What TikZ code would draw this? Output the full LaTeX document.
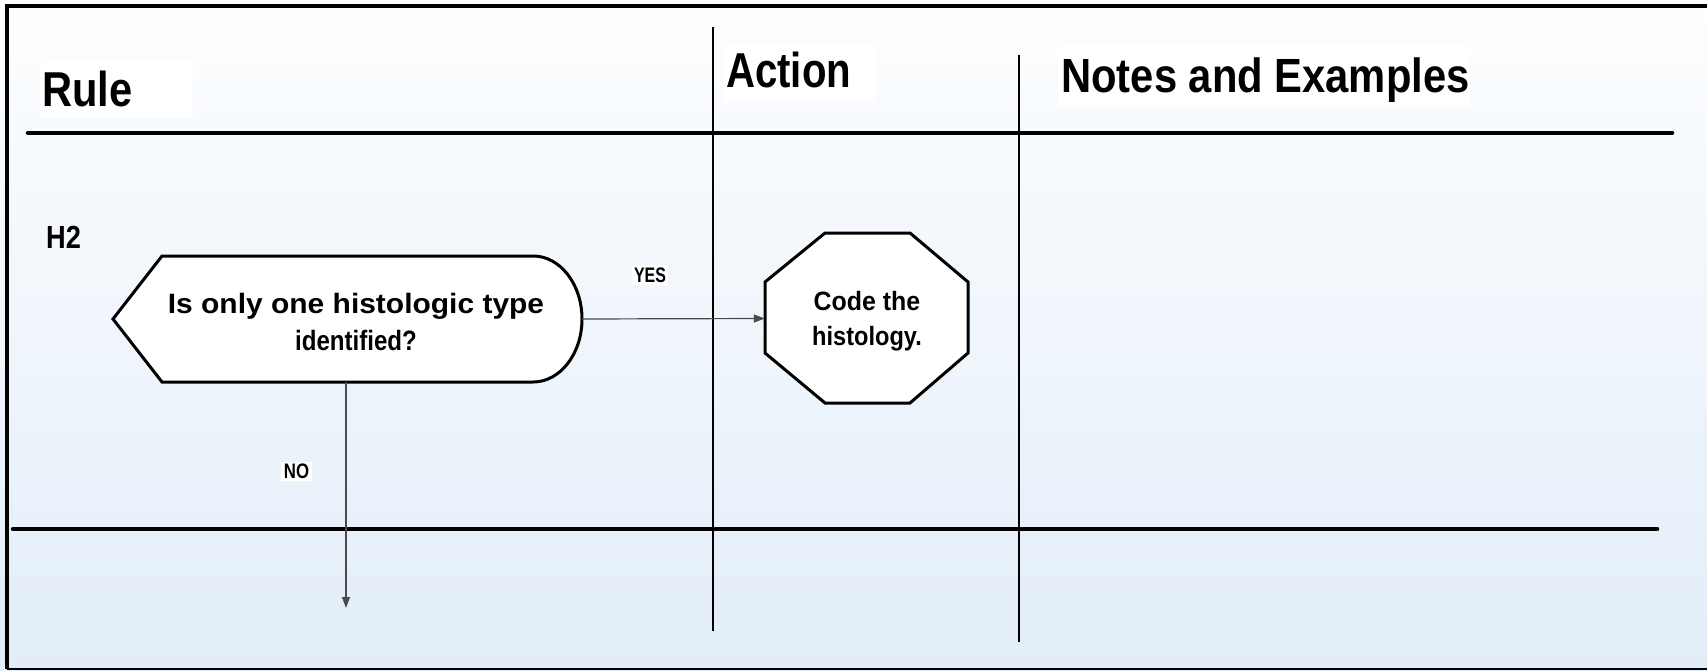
\documentclass[tikz,border=0pt]{standalone}
\usepackage{fontspec}
\setmainfont{Liberation Sans}
\usetikzlibrary{arrows.meta}
\newcommand{\sqz}[2]{\scalebox{#1}[1]{#2}}
\definecolor{bgtop}{RGB}{253,254,255}
\definecolor{bgmid}{RGB}{244,248,252}
\definecolor{bgbot}{RGB}{226,237,248}
\definecolor{conncol}{RGB}{75,75,75}
\tikzset{
  frameline/.style={line width=4, black},
  headrule/.style={line width=4.5, black, line cap=round},
  colrule/.style={line width=2, black},
  outline/.style={line width=3, black, fill=white, line join=miter},
  txt/.style={inner sep=0, font=\bfseries},
  labelbg/.style={fill=white, draw=none},
  tag/.style={txt, fill=white, inner sep=2.5},
  conn/.style={line width=1.2, conncol, -{Triangle[length=11,width=8]}},
}
\begin{document}
\begin{tikzpicture}[x=1pt,y=-1pt]
\useasboundingbox (0,0) rectangle (1707,671);
\clip (0,0) rectangle (1707,671);

% page background
\shade[top color=bgtop, middle color=bgmid, bottom color=bgbot] (0,0) rectangle (1707,671);

% outer frame
\draw[frameline] (1720,6) -- (7,6) -- (7,669);
\draw[line width=2.5] (7,669) -- (1720,669);

% white patches behind the column headings
\fill[labelbg] (41,60) rectangle (193,118);
\fill[labelbg] (723,43) rectangle (875,102);
\fill[labelbg] (1058,45) rectangle (1470,106);

% table rules
\draw[headrule] (28,133) -- (1672,133);
\draw[headrule] (13,529) -- (1657,529);
\draw[colrule] (713,27) -- (713,631);
\draw[colrule] (1019,55) -- (1019,642);

% column headings
\node[txt, anchor=base west] (hrule) at (42,107)
  {\fontsize{49}{49}\selectfont\sqz{0.85}{Rule}};
\node[txt, anchor=base west] (haction) at (726,88)
  {\fontsize{49}{49}\selectfont\sqz{0.82}{Action}};
\node[txt, anchor=base west] (hnotes) at (1061,93)
  {\fontsize{48}{48}\selectfont\sqz{0.87}{Notes and Examples}};

% rule number
\node[txt, anchor=base west] (h2) at (46,248)
  {\fontsize{32}{32}\selectfont\sqz{0.85}{H2}};

% decision: is only one histologic type identified?
\node[inner sep=0, minimum width=469, minimum height=126] (dec) at (347.5,319) {};
\draw[outline] (113,319) -- (162,256) -- (533,256)
  .. controls (560.1,256) and (582,284.2) .. (582,319)
  .. controls (582,353.8) and (560.1,382) .. (533,382)
  -- (162,382) -- cycle;
\node[txt, align=center, anchor=base, font=\bfseries\fontsize{28}{37}\selectfont]
  (q) at (356,350)
  {\sqz{1.07}{Is only one histologic type}\\ \sqz{0.86}{identified?}};

% action: code the histology
\node[inner sep=0, minimum width=203, minimum height=170] (oct) at (866.5,318.5) {};
\draw[outline] (765,282) -- (825,233) -- (910,233) -- (968,282)
  -- (968,353) -- (910,403) -- (825,403) -- (765,353) -- cycle;
\node[txt, align=center, anchor=base, font=\bfseries\fontsize{26.5}{34.5}\selectfont]
  (act) at (867,345)
  {\sqz{0.94}{Code the}\\ \sqz{0.89}{histology.}};

% connectors
\coordinate (noend) at (346,608);
\draw[conn] (dec.east) -- (oct.west);
\draw[conn] (dec.south -| noend) -- (noend);

% branch labels
\node[tag] (yes) at (650,275) {\fontsize{21}{21}\selectfont\sqz{0.76}{YES}};
\node[tag] (no) at (296.5,471.5) {\fontsize{21}{21}\selectfont\sqz{0.8}{NO}};
\end{tikzpicture}
\end{document}
